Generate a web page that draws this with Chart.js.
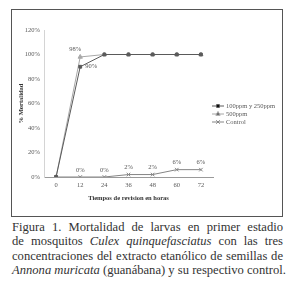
<!DOCTYPE html>
<html>
<head>
<meta charset="utf-8">
<script src="https://cdn.jsdelivr.net/npm/chart.js@4.4.0/dist/chart.umd.min.js"></script>
<style>
  html, body { margin: 0; padding: 0; background: #fff; }
  body { width: 293px; height: 281px; position: relative; overflow: hidden; }
  #box { position: absolute; left: 11px; top: 9px; width: 270px; height: 206px; border: 1.5px solid #555; }
  #box canvas { position: absolute; left: 0; top: 0; }
  #caption {
    position: absolute; left: 12px; top: 220px; width: 271px;
    font-family: "Liberation Serif", serif; font-size: 12.6px; line-height: 14.4px;
    color: #333; white-space: nowrap;
  }
  #caption div { text-align: justify; text-align-last: justify; }
  #caption div.last { text-align-last: left; }
</style>
</head>
<body>
<div id="box"><canvas id="chart" width="270" height="206"></canvas></div>
<div id="caption">
  <div>Figura 1. Mortalidad de larvas en primer estadio</div>
  <div>de mosquitos <i>Culex quinquefasciatus</i> con las tres</div>
  <div>concentraciones del extracto etanólico de semillas de</div>
  <div class="last"><i>Annona muricata</i> (guanábana) y su respectivo control.</div>
</div>
<script>
// data
const hours = ['0', '12', '24', '36', '48', '60', '72'];
const seriesNames = ['100ppm y 250ppm', '500ppm', 'Control'];
const ppm100_250 = [0, 90, 100, 100, 100, 100, 100];
const ppm500 = [0, 98, 100, 100, 100, 100, 100];
const control = [0, 0, 0, 2, 2, 6, 6];
// which points carry a value label
const labels100 = [false, true, false, false, false, false, false];
const labels500 = [false, true, false, false, false, false, false];
const labelsControl = [false, true, true, true, true, true, true];

const serif = '"Liberation Serif", "Times New Roman", serif';
const textGray = '#595959';

const lineColors = ['#5a5a5a', '#a8a8a8', '#858585'];
const markers = ['rect', 'triangle', 'crossRot'];

// value labels next to points
const valueLabels = {
    id: 'valueLabels',
    afterDatasetsDraw(chart) {
        const ctx = chart.ctx;
        const flags = [labels100, labels500, labelsControl];
        // offsets per series: 90% to the right, others above
        const offs = [[11, 0], [-5, -8], [0, -7]];
        ctx.save();
        ctx.font = '6.5px ' + serif;
        ctx.fillStyle = textGray;
        ctx.textAlign = 'center';
        ctx.textBaseline = 'middle';
        chart.data.datasets.forEach((ds, i) => {
            const meta = chart.getDatasetMeta(i);
            ds.data.forEach((v, j) => {
                if (!flags[i][j]) return;
                const p = meta.data[j];
                ctx.fillText(v + '%', p.x + offs[i][0], p.y + offs[i][1]);
            });
        });
        ctx.restore();
    }
};

// legend like the spreadsheet one: line with marker, text to the right
const sideLegend = {
    id: 'sideLegend',
    afterDraw(chart) {
        const ctx = chart.ctx;
        const x0 = 200, y0 = 96, step = 8;
        ctx.save();
        ctx.font = '6.5px ' + serif;
        ctx.textBaseline = 'middle';
        chart.data.datasets.forEach((ds, i) => {
            const y = y0 + i * step;
            ctx.strokeStyle = ds.borderColor;
            ctx.lineWidth = 1;
            ctx.beginPath();
            ctx.moveTo(x0, y);
            ctx.lineTo(x0 + 12, y);
            ctx.stroke();
            Chart.helpers.drawPoint(ctx, {
                pointStyle: ds.pointStyle, radius: ds.pointRadius, borderWidth: 1
            }, x0 + 6, y);
            ctx.fillStyle = textGray;
            ctx.fillText(ds.label, x0 + 14, y);
        });
        ctx.restore();
    }
};

const makeSet = (i, data) => ({
    label: seriesNames[i],
    data: data,
    borderColor: lineColors[i],
    backgroundColor: lineColors[i],
    pointBackgroundColor: lineColors[i],
    pointBorderColor: lineColors[i],
    borderWidth: 1,
    pointStyle: markers[i],
    pointRadius: i == 0 ? 2 : 2.5,
    pointBorderWidth: 1,
    tension: 0,
});

new Chart(document.getElementById('chart'), {
    type: 'line',
    data: {
        labels: hours,
        datasets: [makeSet(0, ppm100_250), makeSet(1, ppm500), makeSet(2, control)],
    },
    options: {
        responsive: false,
        animation: false,
        devicePixelRatio: 1,
        layout: { padding: { left: 0, top: 20, right: 69, bottom: 0 } },
        plugins: {
            legend: { display: false },
            tooltip: { enabled: false },
        },
        scales: {
            x: {
                type: 'category',
                offset: true,
                grid: { display: false, drawTicks: false },
                border: { display: true, color: '#9a9a9a', width: 1 },
                ticks: { color: textGray, font: { family: serif, size: 6.5 }, padding: 4, maxRotation: 0 },
                title: {
                    display: true,
                    text: 'Tiempos de revision en horas',
                    color: '#333',
                    font: { family: serif, size: 6.5, weight: 'bold' },
                    padding: { top: 0, bottom: 14 },
                },
                afterFit(scale) { scale.height = 39; },
            },
            y: {
                min: 0,
                max: 120,
                grid: { display: false, drawTicks: false },
                border: { display: true, color: '#d4d4d4', width: 1 },
                ticks: {
                    stepSize: 20,
                    color: textGray,
                    font: { family: serif, size: 6.5 },
                    padding: 4,
                    callback: (v) => v + '%',
                },
                title: {
                    display: true,
                    text: '% Mortalidad',
                    color: '#333',
                    font: { family: serif, size: 6.5, weight: 'bold' },
                    padding: { top: 5, bottom: 0 },
                },
                afterFit(scale) { scale.width = 32; },
            },
        },
    },
    plugins: [valueLabels, sideLegend],
});
</script>
</body>
</html>
